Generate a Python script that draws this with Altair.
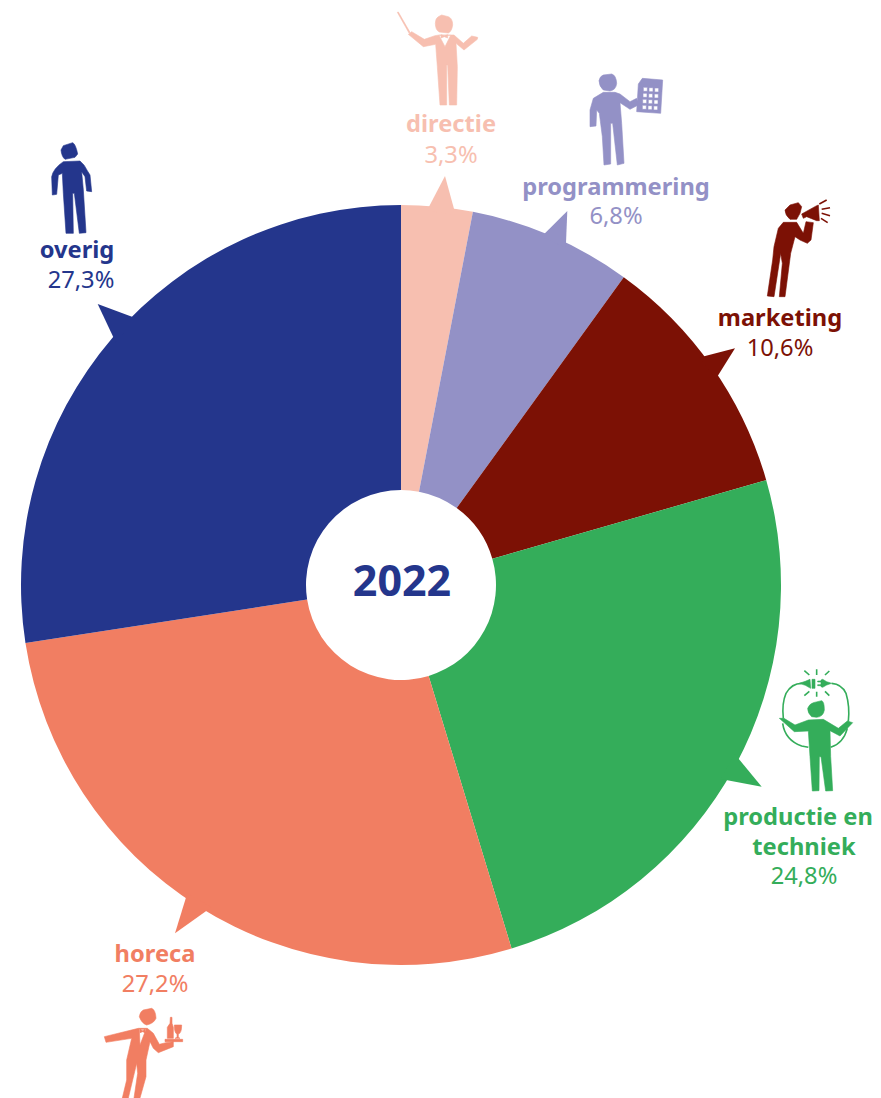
import altair as alt
import pandas as pd

categories = ["directie", "programmering", "marketing", "productie en techniek", "horeca", "overig"]
values = [3.03, 6.94, 10.58, 24.75, 27.26, 27.44]
colours = ["#F7BFB0", "#9391C6", "#7C1105", "#34AD5A", "#F17E62", "#24368C"]
colour_of = dict(zip(categories, colours))

center_year = "2022"
label_lines = [
    ("directie", "directie", True), ("directie", "3,3%", False),
    ("programmering", "programmering", True), ("programmering", "6,8%", False),
    ("marketing", "marketing", True), ("marketing", "10,6%", False),
    ("productie en techniek", "productie en", True), ("productie en techniek", "techniek", True),
    ("productie en techniek", "24,8%", False),
    ("horeca", "horeca", True), ("horeca", "27,2%", False),
    ("overig", "overig", True), ("overig", "27,3%", False),
]
label_x = [451, 451, 616, 616, 780, 780, 798, 804, 804, 155, 155, 77, 81]
label_y = [132, 163, 195, 224, 326, 356, 825, 855, 884, 962, 992, 258, 288]

# pointer triangles: anchor point plus outline relative to it
pointer_x = [445, 567.3, 735, 761.7, 175, 97.7]
pointer_y = [176, 211, 348.3, 786.7, 933.3, 304]
pointer_shapes = [
    "M0 0L-18 34.5L10.7 39Z",
    "M0 0L-25.6 25.6L-1.5 37Z",
    "M0 0L-35.6 9.2L-19.2 30.7Z",
    "M0 0L-27 -32.7L-41 -7.7Z",
    "M0 0L12.3 -40L36.5 -26Z",
    "M0 0L39 14.6L18 38.3Z",
]

# icons: outlines in units of 1/3 pixel, relative to an anchor point
def cells(x0, y0):
    out = ""
    for r in range(4):
        for c in range(3):
            x = x0 + c * 17 + r * -1
            y = y0 + r * 18 + c * 1
            out += f"M{x} {y}L{x} {y+12}L{x+12} {y+12}L{x+12} {y}Z"
    return out

icon_fills = {
    "directie": (380, 0,
        "M175 50Q166 55 166 70Q166 90 178 96L205 99Q215 95 218 75Q218 55 205 50L185 45Z"
        "M52 37L55 36L90 97L87 99Z"
        "M85 103L95 95L133 118L165 107L178 105L222 105L250 130L275 108L293 112L292 118L252 150L228 130L232 200L230 315L208 315L203 195L200 195L200 315L180 315L172 200L167 133L130 140Z"
        "M177 106L195 140L212 106Z"
        "M183 104L193 108L203 104L203 114L193 110L183 114Z"),
    "programmering": (570, 60,
        "M100 45L125 42Q138 45 140 70Q138 90 120 93L100 90Q88 80 87 62Q90 48 100 45Z"
        "M100 97L135 97L150 102L180 125L200 115L205 135L180 148L150 128L155 190L162 310L142 315L128 190L122 190L122 312L102 315L97 230L88 160L80 150L78 198L60 200L60 150L70 115Z"
        "M217 55L278 60L272 160L200 155L205 72Z" + cells(220, 82)),
    "marketing": (750, 190,
        "M120 45L145 38L155 50L150 70L140 88L120 88Q105 75 105 60Z"
        "M155 72L200 47L205 45L208 92L200 92L170 80L160 85Z"
        "M100 97L140 97L160 130L168 95L190 98L183 150L172 160L150 150L135 140L122 190L105 320L88 320L97 220L92 190L72 320L52 318L68 210L72 170L85 115Z"),
    "productie en techniek": (760, 660,
        "M160 128L185 122Q193 125 193 150Q190 170 170 172L155 170Q143 160 143 145Q148 132 160 128Z"
        "M58 175L72 175L105 195L145 180L190 178L235 205L262 183L278 188L240 228L210 212L212 290L218 392L197 393L183 290L178 290L177 392L157 393L150 290L145 213L103 215Z"
        "M118 70L136 64L150 58L152 85L136 76Z"
        "M156 58L165 58L165 85L156 85Z"
        "M183 60L188 58L200 65L215 70L200 75L188 82L183 80Z"
        "M173 63L183 63L183 66L173 66Z"
        "M173 74L183 74L183 77L173 77Z"),
    "horeca": (90, 1000,
        "M160 30L185 25Q197 30 198 55Q192 70 170 75Q155 70 148 50Q150 35 160 30Z"
        "M43 110L145 85L172 85L190 100L208 133L228 128L250 125L250 140L205 158L190 145L180 125L168 180L168 230L150 294L132 294L143 220L140 190L115 294L97 294L110 240L110 180L125 115L48 127Z"
        "M148 88L150 135L168 88Z"
        "M150 88L158 92L165 88L165 98L158 95L150 98Z"
        "M225 118L278 118L278 125L225 125Z"
        "M241 52L246 52L246 70L250 82L250 115L232 115L232 82L240 70Z"
        "M253 75L275 75Q275 100 265 102L265 112L270 115L255 115L261 112L261 102Q253 100 253 75Z"),
    "overig": (30, 130,
        "M100 47L128 38Q137 42 143 72L135 82L105 88Q95 80 93 60Z"
        "M100 95L150 93Q165 105 172 122L180 135L185 185L170 183L165 140L155 125L160 180L168 308L148 310L133 190L128 190L130 310L108 310L100 190L97 130L85 135L80 193L67 195L65 140Q70 115 100 95Z"),
}
icon_strokes = {
    "marketing": "M208 42L230 30M215 58L240 53M215 70L240 77M213 85L233 98",
    "productie en techniek": (
        "M125 70Q95 70 78 100Q65 130 70 175M68 190Q75 240 125 258L145 262"
        "M215 70Q245 72 258 100Q270 140 265 185M262 205Q250 250 212 262"
        "M170 28L170 45M170 95L170 110M133 32L148 45M208 33L195 45M133 107L148 94M208 107L195 94"),
}

X = alt.Scale(domain=[8, 873], range=[0, 865], nice=False, zero=False)
Y = alt.Scale(domain=[8, 1098], range=[0, 1090], nice=False, zero=False)
ICON_SIZE = 4 / 9


def at(x, y):
    return {"x": alt.X("x:Q", scale=X, axis=None), "y": alt.Y("y:Q", scale=Y, axis=None)}


pie = pd.DataFrame({"category": categories, "value": values, "order": list(range(6))})
arcs = alt.Chart(pie).mark_arc(innerRadius=95, outerRadius=380).encode(
    theta=alt.Theta("value:Q", stack=True, scale=alt.Scale(domain=[0, sum(values)], range=[0, 6.283185307])),
    order=alt.Order("order:Q"),
    color=alt.Color("category:N", scale=alt.Scale(domain=categories, range=colours), legend=None),
    x=alt.value(393),
    y=alt.value(577),
)

layers = [arcs]

for cat, px, py, shape in zip(categories, pointer_x, pointer_y, pointer_shapes):
    d = pd.DataFrame({"x": [px], "y": [py]})
    layers.append(alt.Chart(d).mark_point(shape=shape, size=4, filled=True, opacity=1,
                                          fill=colour_of[cat], strokeWidth=0).encode(**at(0, 0)))

for cat, (ax, ay, path) in icon_fills.items():
    d = pd.DataFrame({"x": [ax], "y": [ay]})
    layers.append(alt.Chart(d).mark_point(shape=path, size=ICON_SIZE, filled=True, opacity=1,
                                          fill=colour_of[cat], stroke=colour_of[cat], strokeWidth=0.6).encode(**at(0, 0)))
    if cat in icon_strokes:
        layers.append(alt.Chart(d).mark_point(shape=icon_strokes[cat], size=ICON_SIZE, filled=False, opacity=1,
                                              stroke=colour_of[cat], strokeWidth=1.6).encode(**at(0, 0)))

text_df = pd.DataFrame({
    "cat": [c for c, _, _ in label_lines],
    "text": [t for _, t, _ in label_lines],
    "bold": [b for _, _, b in label_lines],
    "x": label_x,
    "y": label_y,
})
colour_scale = alt.Scale(domain=categories, range=colours)
for bold, weight in [(True, "bold"), (False, "normal")]:
    layers.append(alt.Chart(text_df[text_df.bold == bold]).mark_text(
        font="Noto Sans", fontSize=23.7, fontWeight=weight, align="center", baseline="alphabetic"
    ).encode(
        x=alt.X("x:Q", scale=X, axis=None),
        y=alt.Y("y:Q", scale=Y, axis=None),
        text="text:N",
        color=alt.Color("cat:N", scale=colour_scale, legend=None),
    ))

centre = pd.DataFrame({"x": [402], "y": [596], "text": [center_year]})
layers.append(alt.Chart(centre).mark_text(
    font="Noto Sans", fontSize=43, fontWeight="bold", align="center", baseline="alphabetic", color="#24368C"
).encode(x=alt.X("x:Q", scale=X, axis=None), y=alt.Y("y:Q", scale=Y, axis=None), text="text:N"))

chart = alt.layer(*layers).properties(
    width=865, height=1090, padding=0, autosize=alt.AutoSizeParams(type="none")
).configure_view(stroke=None).resolve_scale(color="shared")

chart.save("out.html", embed_options={"renderer": "svg", "actions": False})
